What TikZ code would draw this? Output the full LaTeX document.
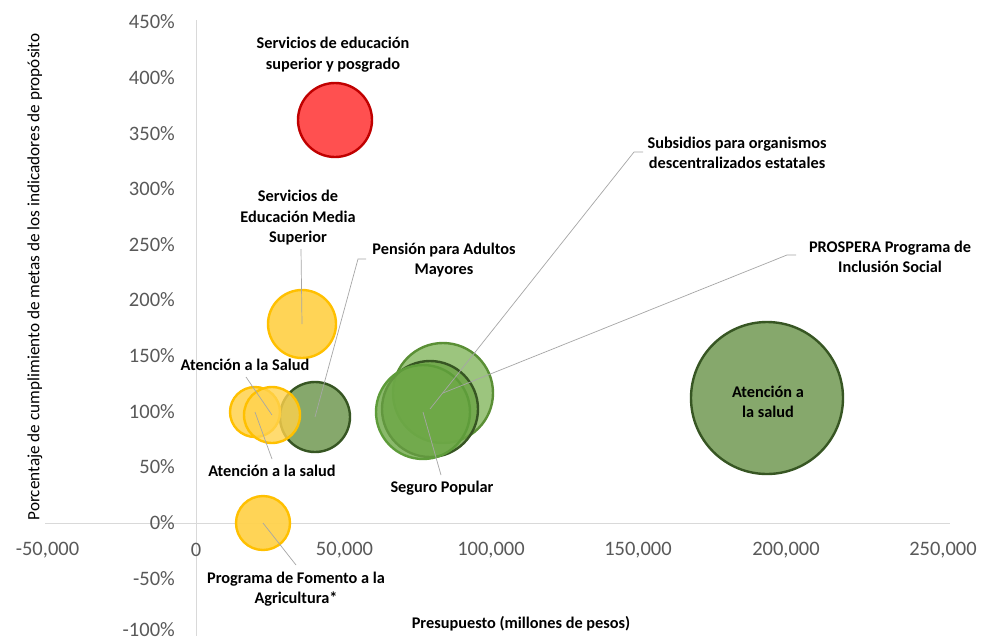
\documentclass[tikz,border=0pt]{standalone}
\usepackage{fontspec}
\setmainfont{Carlito}
\definecolor{redfill}{HTML}{FF5050}
\definecolor{redline}{HTML}{C00000}
\definecolor{yelfill}{HTML}{FFD24D}
\definecolor{yelline}{HTML}{FFC000}
\definecolor{olfill}{HTML}{86A86C}
\definecolor{olline}{HTML}{375623}
\definecolor{prfill}{HTML}{9CC57E}
\definecolor{prline}{HTML}{5A8F35}
\definecolor{sbfill}{HTML}{6BA444}
\definecolor{sbline}{HTML}{375623}
\definecolor{sgfill}{HTML}{6DA846}
\definecolor{sgline}{HTML}{5E9C3A}
\definecolor{axisgray}{HTML}{D9D9D9}
\definecolor{tickgray}{HTML}{595959}
\definecolor{leadgray}{HTML}{A6A6A6}
\begin{document}
\begin{tikzpicture}[x=1pt,y=-1pt,
  lbl/.style={font=\fontsize{16.3}{20.5}\selectfont\bfseries, align=center, text=black, inner sep=0pt},
  ticklbl/.style={font=\fontsize{20.5}{24}\selectfont, text=tickgray, inner sep=0pt},
  leader/.style={draw=leadgray, line width=0.7pt},
  bub/.style={circle, minimum size=#1pt, inner sep=0pt, line width=2.4pt},
  axisline/.style={draw=axisgray, line width=1pt}]
\useasboundingbox (0,0) rectangle (988,641);
\fill[white] (0,0) rectangle (988,641);
% axes
\coordinate (xa0) at (45,523);
\coordinate (xa1) at (950,523);
\coordinate (ya0) at (196,20);
\coordinate (ya1) at (196,636);
\draw[axisline] (xa0) -- (xa1);
\draw[axisline] (ya0) -- (ya1);
% y tick labels
\foreach \v/\yy in {450\%/22,400\%/78,350\%/134,300\%/189,250\%/245,200\%/300,150\%/356,100\%/412,50\%/467,0\%/523,-50\%/579,-100\%/630}
  \node[ticklbl, anchor=east] at (175,\yy) {\v};
% x tick labels
\foreach \v/\xx in {-50{,}000/47.5,0/196,50{,}000/344.5,100{,}000/491,150{,}000/638,200{,}000/786,250{,}000/943}
  \node[ticklbl] at (\xx,550) {\v};
% axis titles
\node[font=\fontsize{17.2}{20}\selectfont, rotate=90, inner sep=0pt] (ytitle) at (35,277) {Porcentaje de cumplimiento de metas de los indicadores de propósito};
\node[lbl] (xtitle) at (521,624) {Presupuesto (millones de pesos)};
% bubbles
\node[bub=74, fill=redfill, draw=redline] (b1) at (335,120) {};
\node[bub=68, fill=yelfill, draw=yelline, fill opacity=0.95] (b2) at (302,324) {};
\node[bub=70, fill=olfill, draw=olline] (b5) at (315,417) {};
\node[bub=50, fill=yelfill, draw=yelline, fill opacity=0.85] (b3) at (255,412) {};
\node[bub=56, fill=yelfill, draw=yelline, fill opacity=0.8] (b4) at (272,415) {};
\node[bub=54, fill=yelfill, draw=yelline, fill opacity=0.95] (b8) at (263,523) {};
\node[bub=100, fill=prfill, draw=prline] (b6) at (443,393) {};
\node[bub=96, fill=sbfill, draw=sbline, fill opacity=0.8] (b7) at (430,409) {};
\node[bub=94, fill=sgfill, draw=sgline, fill opacity=0.8] (b9) at (423,412) {};
\node[bub=152, fill=olfill, draw=olline] (b10) at (767,398) {};
% labels
\node[lbl] (l1) at (333,54.5) {Servicios de educación\\superior y posgrado};
\node[lbl] (l2) at (298,218) {Servicios de\\Educación Media\\Superior};
\node[lbl] (l5) at (444,260) {Pensión para Adultos\\Mayores};
\node[lbl] (l3) at (245,365) {Atención a la Salud};
\node[lbl] (l4) at (272,471) {Atención a la salud};
\node[lbl] (l7) at (737,153) {Subsidios para organismos\\descentralizados estatales};
\node[lbl] (l6) at (890,257) {PROSPERA Programa de\\Inclusión Social};
\node[lbl] (l9) at (442,488) {Seguro Popular};
\node[lbl] (l8) at (296,589) {Programa de Fomento a la\\Agricultura*};
\node[lbl] (l10) at (768,402) {Atención a\\la salud};
% leader lines
\coordinate (k2) at (301,249);
\draw[leader] (k2) -- (b2.center);
\coordinate (k5a) at (358,259);
\coordinate (k5b) at (366,259);
\draw[leader] (b5.center) -- (k5a) -- (k5b);
\coordinate (k4) at (246,377);
\draw[leader] (k4) -- (b4.center);
\coordinate (k3) at (272,459);
\draw[leader] (k3) -- (b3.center);
\coordinate (k7a) at (634,152);
\coordinate (k7b) at (643,152);
\draw[leader] (b7.center) -- (k7a) -- (k7b);
\coordinate (k6a) at (787,255);
\coordinate (k6b) at (796,255);
\draw[leader] (b6.center) -- (k6a) -- (k6b);
\coordinate (k9) at (441,475);
\draw[leader] (b9.center) -- (k9);
\coordinate (k8) at (296,565);
\draw[leader] (b8.center) -- (k8);
\end{tikzpicture}
\end{document}
